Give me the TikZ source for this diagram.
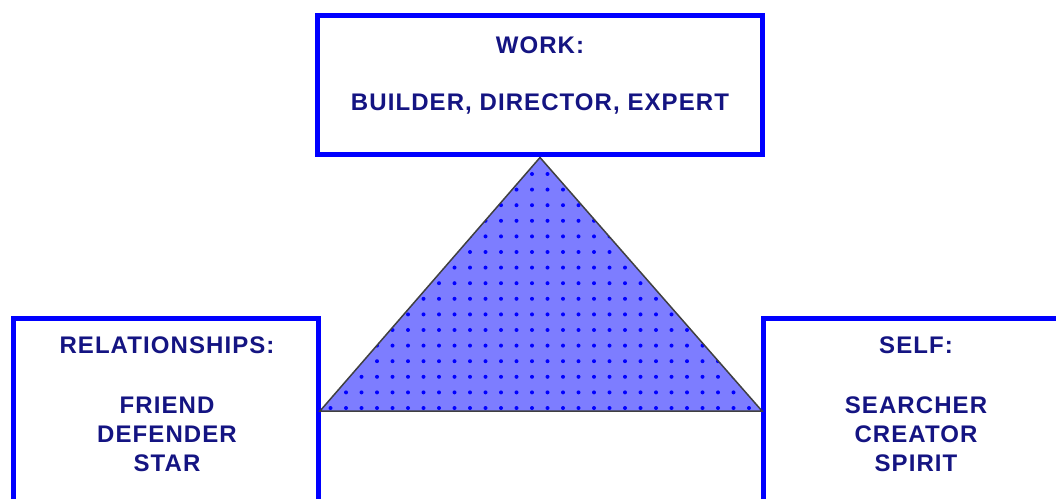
\documentclass[tikz,border=0pt]{standalone}
\usepackage{fontspec}
\setmainfont{Liberation Sans}
\newfontfamily\lblfont[LetterSpace=4.5]{Liberation Sans}
\begin{document}
\begin{tikzpicture}[x=1pt,y=1pt,
  box/.style={draw=blue,line width=5pt,rectangle,inner sep=0pt},
  lbl/.style={text=txtblue,font=\lblfont\bfseries\fontsize{24}{29}\selectfont,align=center,inner sep=0pt,anchor=center}]
\definecolor{txtblue}{RGB}{20,20,130}
\definecolor{trifill}{RGB}{125,125,255}
\useasboundingbox (0,0) rectangle (1056,498);
\clip (0,0) rectangle (1056,498);
% boxes
\node[box,minimum width=445pt,minimum height=139.5pt] (work) at (540,412.75) {};
\node[box,minimum width=305pt,minimum height=300pt] (rel) at (166,29.5) {};
\node[box,minimum width=340pt,minimum height=300pt] (self) at (933.5,29.5) {};
% triangle corners
\coordinate (apex) at (work.south);
\coordinate (bl) at (320,87);
\coordinate (br) at (762,87);
\fill[trifill] (apex) -- (bl) -- (br) -- cycle;
\begin{scope}
\clip (apex) -- (bl) -- (br) -- cycle;
\foreach \i in {0,...,30} {
  \foreach \j in {0,...,17} {
    \fill[blue] (315+15.5*\i,90+15.6*\j) circle (2pt);
  }
}
\end{scope}
\draw[black!75,line width=1.5pt,line join=miter] (apex) -- (bl) -- (br) -- cycle;
% redraw top box border over apex
\node[box,minimum width=445pt,minimum height=139.5pt] at (work.center) {};
% texts
\node[lbl] (wt) at (540,453) {WORK:};
\node[lbl] (wl) at (540,394) {BUILDER, DIRECTOR, EXPERT};
\node[lbl] (rt) at (167,153) {RELATIONSHIPS:};
\node[lbl] (rl) at (167,64) {FRIEND\\DEFENDER\\STAR};
\node[lbl] (st) at (916,153) {SELF:};
\node[lbl] (sl) at (916,64) {SEARCHER\\CREATOR\\SPIRIT};
\end{tikzpicture}
\end{document}
